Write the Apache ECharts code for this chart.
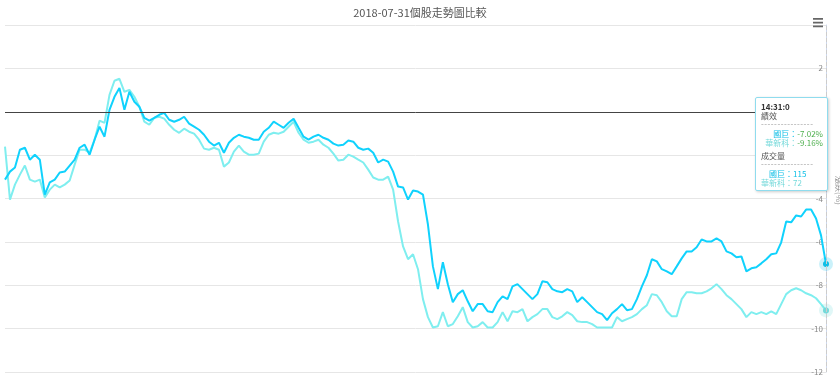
<html style="height: 100%; overflow: hidden">
<head>
<meta charset="utf-8">
</head>
<body style="height: 100%; margin: 0; overflow: hidden">
	<div id="container" style="width: 840px; height: 376px"></div>

	<script src="https://cdn.jsdelivr.net/npm/echarts@6/dist/echarts.min.js"></script>
	<script type="text/javascript">
		var dom = document.getElementById("container");
		var myChart = echarts.init(dom);

		var titleText = '2018-07-31個股走勢圖比較';
		var seriesNames = ['國巨', '華新科'];
		var seriesColors = ['#0fbfe6', '#74d9da'];
		var tipTime = '14:31:0';
		var tipVolumes = [115, 72];
		var yTicks = { min: -12, max: 4, interval: 2 };

		// 國巨 漲跌(%)
		var yageo = [
			-3.13, -2.76, -2.57, -1.75, -1.66, -2.21, -1.98, -2.21, -3.82, -3.26,
			-3.13, -2.80, -2.76, -2.48, -2.21, -1.66, -1.52, -1.98, -1.29, -0.69,
			-1.15, 0.09, 0.69, 1.10, 0.09, 0.92, 0.46, 0.23, -0.28, -0.41,
			-0.28, -0.14, -0.05, -0.37, -0.46, -0.37, -0.23, -0.55, -0.69, -0.83,
			-1.06, -1.38, -1.56, -1.43, -1.89, -1.43, -1.20, -1.06, -1.15, -1.20,
			-1.29, -1.29, -0.92, -0.74, -0.46, -0.60, -0.74, -0.51, -0.32, -0.74,
			-1.15, -1.29, -1.15, -1.06, -1.20, -1.29, -1.47, -1.56, -1.52, -1.33,
			-1.38, -1.66, -1.75, -1.70, -1.89, -2.34, -2.21, -2.30, -2.76, -3.45,
			-3.49, -4.05, -3.63, -3.68, -3.82, -5.20, -7.13, -8.18, -6.94, -7.95,
			-8.78, -8.41, -8.23, -8.74, -9.20, -8.87, -8.87, -9.20, -9.24, -8.78,
			-8.51, -8.64, -8.05, -7.95, -8.18, -8.41, -8.64, -8.41, -7.82, -7.86,
			-8.18, -8.28, -8.32, -8.18, -8.28, -8.78, -8.55, -8.78, -9.01, -9.24,
			-9.33, -9.61, -9.29, -9.10, -8.87, -9.15, -9.10, -8.64, -8.05, -7.54,
			-6.80, -6.90, -7.26, -7.36, -7.49, -7.13, -6.76, -6.44, -6.44, -6.25,
			-5.89, -5.98, -5.98, -5.84, -5.98, -6.44, -6.53, -6.71, -6.67, -7.36,
			-7.22, -7.17, -6.99, -6.80, -6.57, -6.53, -6.02, -5.06, -5.10, -4.78,
			-4.83, -4.51, -4.51, -4.92, -5.70, -7.02
		];

		// 華新科 漲跌(%)
		var walsin = [
			-1.61, -4.05, -3.36, -2.90, -2.48, -3.13, -3.22, -3.13, -3.95, -3.59,
			-3.36, -3.49, -3.36, -3.17, -2.44, -1.75, -1.75, -1.89, -1.29, -0.41,
			-0.51, 0.78, 1.43, 1.52, 0.92, 1.01, 0.69, 0.23, -0.46, -0.60,
			-0.28, -0.23, -0.32, -0.60, -0.83, -0.97, -0.78, -0.92, -1.01, -1.29,
			-1.70, -1.75, -1.66, -1.75, -2.53, -2.34, -1.84, -1.56, -1.84, -1.98,
			-1.98, -1.93, -1.38, -1.06, -0.97, -1.01, -0.92, -0.69, -0.46, -0.97,
			-1.29, -1.43, -1.38, -1.29, -1.52, -1.66, -1.93, -2.25, -2.21, -1.98,
			-2.07, -2.21, -2.34, -2.67, -3.03, -3.13, -3.13, -2.99, -3.59, -5.06,
			-6.21, -6.80, -6.57, -7.26, -8.64, -9.47, -9.95, -9.89, -9.24, -9.89,
			-9.79, -9.43, -9.01, -9.70, -9.95, -9.89, -9.70, -9.95, -9.95, -9.70,
			-9.24, -9.66, -9.20, -9.24, -9.10, -9.66, -9.47, -9.33, -9.10, -9.10,
			-9.47, -9.56, -9.43, -9.24, -9.38, -9.66, -9.70, -9.70, -9.79, -9.95,
			-9.95, -9.95, -9.95, -9.47, -9.66, -9.56, -9.47, -9.33, -9.10, -8.92,
			-8.41, -8.46, -8.78, -9.20, -9.43, -9.43, -8.64, -8.32, -8.32, -8.37,
			-8.37, -8.28, -8.14, -7.95, -8.18, -8.46, -8.64, -8.87, -9.10, -9.47,
			-9.24, -9.33, -9.24, -9.33, -9.20, -9.33, -8.87, -8.41, -8.23, -8.14,
			-8.23, -8.37, -8.46, -8.60, -8.87, -9.16
		];

		var categories = [];
		for (var i = 0; i < yageo.length; i++) {
			categories.push(String(i));
		}
		var last = yageo.length - 1;

		function haloPoint(values, color) {
			return {
				symbol : 'circle',
				silent : true,
				label : { show : false },
				animation : false,
				data : [ {
					coord : [ last, values[last] ],
					symbolSize : 14,
					itemStyle : { color : color, opacity : 0.22 }
				}, {
					coord : [ last, values[last] ],
					symbolSize : 5,
					itemStyle : { color : color }
				} ]
			};
		}

		function tipHtml(params) {
			var dash = '<div style="color:#999;letter-spacing:0.5px;line-height:6px;margin:1px 0 2px">----------------</div>';
			var rowsPct = '', rowsVol = '';
			for (var k = 0; k < params.length; k++) {
				var p = params[k];
				var c = seriesColors[p.seriesIndex];
				rowsPct += '<tr><td style="text-align:right;color:' + c + ';padding:0">' + p.seriesName + '：</td>'
					+ '<td style="color:#4cae4c;padding:0">' + p.value.toFixed(2) + '%</td></tr>';
				rowsVol += '<tr><td style="text-align:right;color:' + c + ';padding:0">' + p.seriesName + '：</td>'
					+ '<td style="color:' + c + ';padding:0">' + tipVolumes[p.seriesIndex] + '</td></tr>';
			}
			return '<div style="font-size:8px;line-height:9px;color:#333">'
				+ '<div style="font-weight:bold">' + tipTime + '</div>'
				+ '<div style="color:#555">績效</div>' + dash
				+ '<table style="border-collapse:collapse;font-size:8px;line-height:9px;margin-left:auto">' + rowsPct + '</table>'
				+ '<div style="height:4px"></div>'
				+ '<div style="color:#555">成交量</div>' + dash
				+ '<table style="border-collapse:collapse;font-size:8px;line-height:9px">' + rowsVol + '</table>'
				+ '</div>';
		}

		var option = {
			animation : false,
			textStyle : { fontFamily : "'Noto Sans CJK TC', sans-serif" },
			title : {
				text : titleText,
				left : 'center',
				top : 2,
				textStyle : { fontSize : 11, fontWeight : 'normal', color : '#555' }
			},
			toolbox : {
				right : 2,
				top : 3,
				itemSize : 10,
				feature : {
					myMenu : {
						show : true,
						title : '',
						icon : 'path://M0,0H12V2H0Z M0,4.5H12V6.5H0Z M0,9H12V11H0Z',
						onclick : function() {}
					}
				},
				iconStyle : { color : '#666', borderColor : '#666', borderWidth : 0 }
			},
			tooltip : {
				trigger : 'axis',
				alwaysShowContent : true,
				transitionDuration : 0,
				position : [ 755, 97 ],
				backgroundColor : '#fff',
				borderColor : '#8fdcee',
				borderWidth : 1,
				padding : [ 4, 4, 3, 5 ],
				extraCssText : 'box-shadow:1px 1px 3px rgba(0,0,0,0.2);border-radius:2px;width:62px;',
				axisPointer : { type : 'line', lineStyle : { color : '#ccc', width : 1 } },
				formatter : tipHtml
			},
			grid : { left : 5, right : 14, top : 25, bottom : 4, containLabel : false, outerBoundsMode : 'none' },
			xAxis : {
				type : 'category',
				data : categories,
				boundaryGap : false,
				show : false
			},
			yAxis : {
				type : 'value',
				position : 'right',
				min : yTicks.min,
				max : yTicks.max,
				interval : yTicks.interval,
				name : '漲跌(%)',
				nameLocation : 'middle',
				nameRotate : -90,
				nameGap : 4,
				nameTextStyle : { fontSize : 8, color : '#999', padding : [ 0, 16, 0, 0 ] },
				axisLine : { show : true, lineStyle : { color : '#ccd6eb' } },
				axisTick : { show : false },
				axisLabel : {
					inside : true,
					margin : 3,
					fontSize : 8,
					color : '#888',
					showMaxLabel : false
				},
				splitLine : { lineStyle : { color : '#e6e6e6' } }
			},
			series : [ {
				name : seriesNames[0],
				type : 'line',
				z : 3,
				data : yageo,
				showSymbol : false,
				symbol : 'circle',
				symbolSize : 4,
				lineStyle : { width : 2, color : seriesColors[0] },
				itemStyle : { color : seriesColors[0] },
				markLine : {
					silent : true,
					symbol : 'none',
					label : { show : false },
					lineStyle : { color : '#444', width : 1, type : 'solid' },
					data : [ { yAxis : 0 } ]
				},
				markPoint : haloPoint(yageo, seriesColors[0])
			}, {
				name : seriesNames[1],
				type : 'line',
				z : 2,
				data : walsin,
				showSymbol : false,
				symbol : 'circle',
				symbolSize : 4,
				lineStyle : { width : 2, color : seriesColors[1] },
				itemStyle : { color : seriesColors[1] },
				markPoint : haloPoint(walsin, seriesColors[1])
			} ]
		};

		myChart.setOption(option);
		myChart.dispatchAction({ type : 'showTip', seriesIndex : 0, dataIndex : last });
	</script>
</body>
</html>
